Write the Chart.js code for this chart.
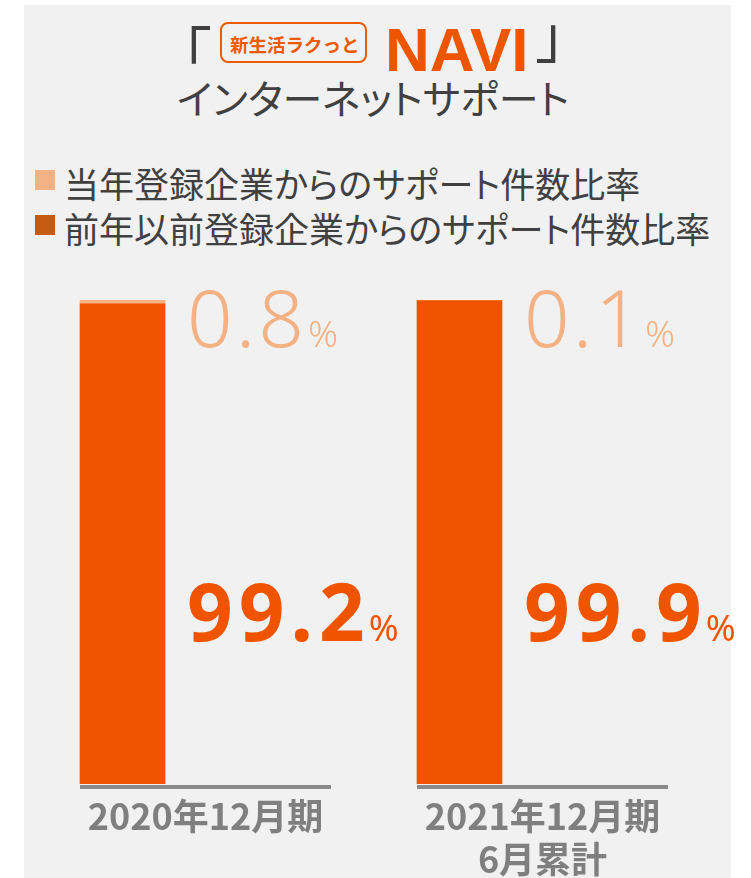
<!DOCTYPE html>
<html><head><meta charset="utf-8">
<script src="https://cdn.jsdelivr.net/npm/chart.js@4.4.1/dist/chart.umd.min.js"></script>
<style>
html,body{margin:0;padding:0;background:#fff;width:751px;height:878px;overflow:hidden;position:relative;}
#panel{position:absolute;left:24px;top:5px;width:707px;height:873px;background:#f1f1f1;}
.t{position:absolute;white-space:nowrap;line-height:1;}
#br1{left:154px;top:8px;font:400 58px "Noto Sans CJK JP";color:#404040;}
#box{position:absolute;left:220px;top:22px;width:143px;height:37px;border:2px solid #ee5a00;border-radius:8px;}
#boxtxt{left:230px;top:31px;font:700 18.5px "Noto Sans CJK JP";color:#ee5a00;}
#navi{left:385px;top:14px;font:700 62px "Liberation Sans";color:#ee5500;}
#br2{left:535px;top:-9px;font:400 58px "Noto Sans CJK JP";color:#404040;}
#sub{left:177px;top:68px;font:400 40px "Noto Sans CJK JP";color:#404040;font-feature-settings:"palt";}
.lgsq{position:absolute;left:35px;width:20px;height:20px;}
.lgtx{position:absolute;left:64px;white-space:nowrap;line-height:1;font:400 35px "Noto Sans CJK JP";color:#404040;font-feature-settings:"palt";}
#cv{position:absolute;left:-46px;top:250px;}
</style></head>
<body>
<div id="panel"></div>
<div class="t" id="br1">「</div>
<div id="box"></div>
<div class="t" id="boxtxt">新生活ラクっと</div>
<div class="t" id="navi">NAVI</div>
<div class="t" id="br2">」</div>
<div class="t" id="sub">インターネットサポート</div>
<div id="legend"></div>
<canvas id="cv" width="800" height="628"></canvas>
<script>
// ---- data ----
const categories = [['2020年12月期'], ['2021年12月期', '6月累計']];
const seriesNames = ['前年以前登録企業からのサポート件数比率', '当年登録企業からのサポート件数比率'];
const prevShare = [99.2, 99.9];
const currShare = [0.8, 0.1];
const barColors = ['#f05400', '#f4b183'];
const legendColors = ['#c55a11', '#f4b183'];

// legend (HTML text), current-year first as in the reference
const legendOrder = [1, 0];
const lg = document.getElementById('legend');
legendOrder.forEach((k, row) => {
  const sq = document.createElement('div');
  sq.className = 'lgsq';
  sq.style.top = (170 + row * 45) + 'px';
  sq.style.background = legendColors[k];
  lg.appendChild(sq);
  const tx = document.createElement('div');
  tx.className = 'lgtx';
  tx.style.top = (157 + row * 45) + 'px';
  tx.textContent = seriesNames[k];
  lg.appendChild(tx);
});

function fmt(v) { return v.toFixed(1); }
function drawPair(ctx, num, x, y, font, pfont, color, spacing) {
  ctx.save();
  ctx.fillStyle = color;
  ctx.textBaseline = 'alphabetic';
  ctx.textAlign = 'left';
  ctx.font = font;
  ctx.letterSpacing = spacing + 'px';
  ctx.fillText(num, x, y);
  const w = ctx.measureText(num).width - spacing;
  ctx.letterSpacing = '0px';
  ctx.font = pfont;
  ctx.fillText('%', x + w + 4, y);
  ctx.restore();
}

const valuePlugin = {
  id: 'valuePlugin',
  afterDatasetsDraw(chart) {
    const ctx = chart.ctx;
    const mPrev = chart.getDatasetMeta(0);
    const mCurr = chart.getDatasetMeta(1);
    mPrev.data.forEach((bar, i) => {
      const left = bar.x - bar.width / 2;
      const right = bar.x + bar.width / 2;
      ctx.save();
      ctx.fillStyle = '#8a8a8a';
      ctx.fillRect(left, bar.base + 1, 251, 4);
      ctx.restore();
      drawPair(ctx, fmt(prevShare[i]), right + 22, bar.base - 143,
        '700 80px "Noto Sans"', '400 36px "Noto Sans"', '#f05400', 6);
      const top = mCurr.data[i].y;
      drawPair(ctx, fmt(currShare[i]), right + 22, top + 47,
        '300 80px "Noto Sans"', '300 37px "Noto Sans"', '#f4b183', 3);
    });
  }
};

new Chart(document.getElementById('cv'), {
  type: 'bar',
  data: {
    labels: categories,
    datasets: [
      { label: seriesNames[0], data: prevShare, backgroundColor: barColors[0], barThickness: 85, borderWidth: 0 },
      { label: seriesNames[1], data: currShare, backgroundColor: barColors[1], barThickness: 85, borderWidth: 0 }
    ]
  },
  options: {
    responsive: false,
    animation: false,
    devicePixelRatio: 1,
    layout: { padding: { left: 0, right: 126, top: 50, bottom: 0 } },
    plugins: { legend: { display: false }, tooltip: { enabled: false } },
    scales: {
      x: {
        stacked: true,
        grid: { display: false, drawTicks: false },
        border: { display: false },
        ticks: {
          padding: 11,
          labelOffset: 83,
          color: '#7f7f7f',
          font: { family: '"Noto Sans CJK JP"', size: 36, weight: 'bold', lineHeight: 1.2 }
        },
        afterFit(scale) { scale.height = 94; }
      },
      y: { stacked: true, display: false, min: 0, max: 100 }
    }
  },
  plugins: [valuePlugin]
});
</script>
</body></html>
